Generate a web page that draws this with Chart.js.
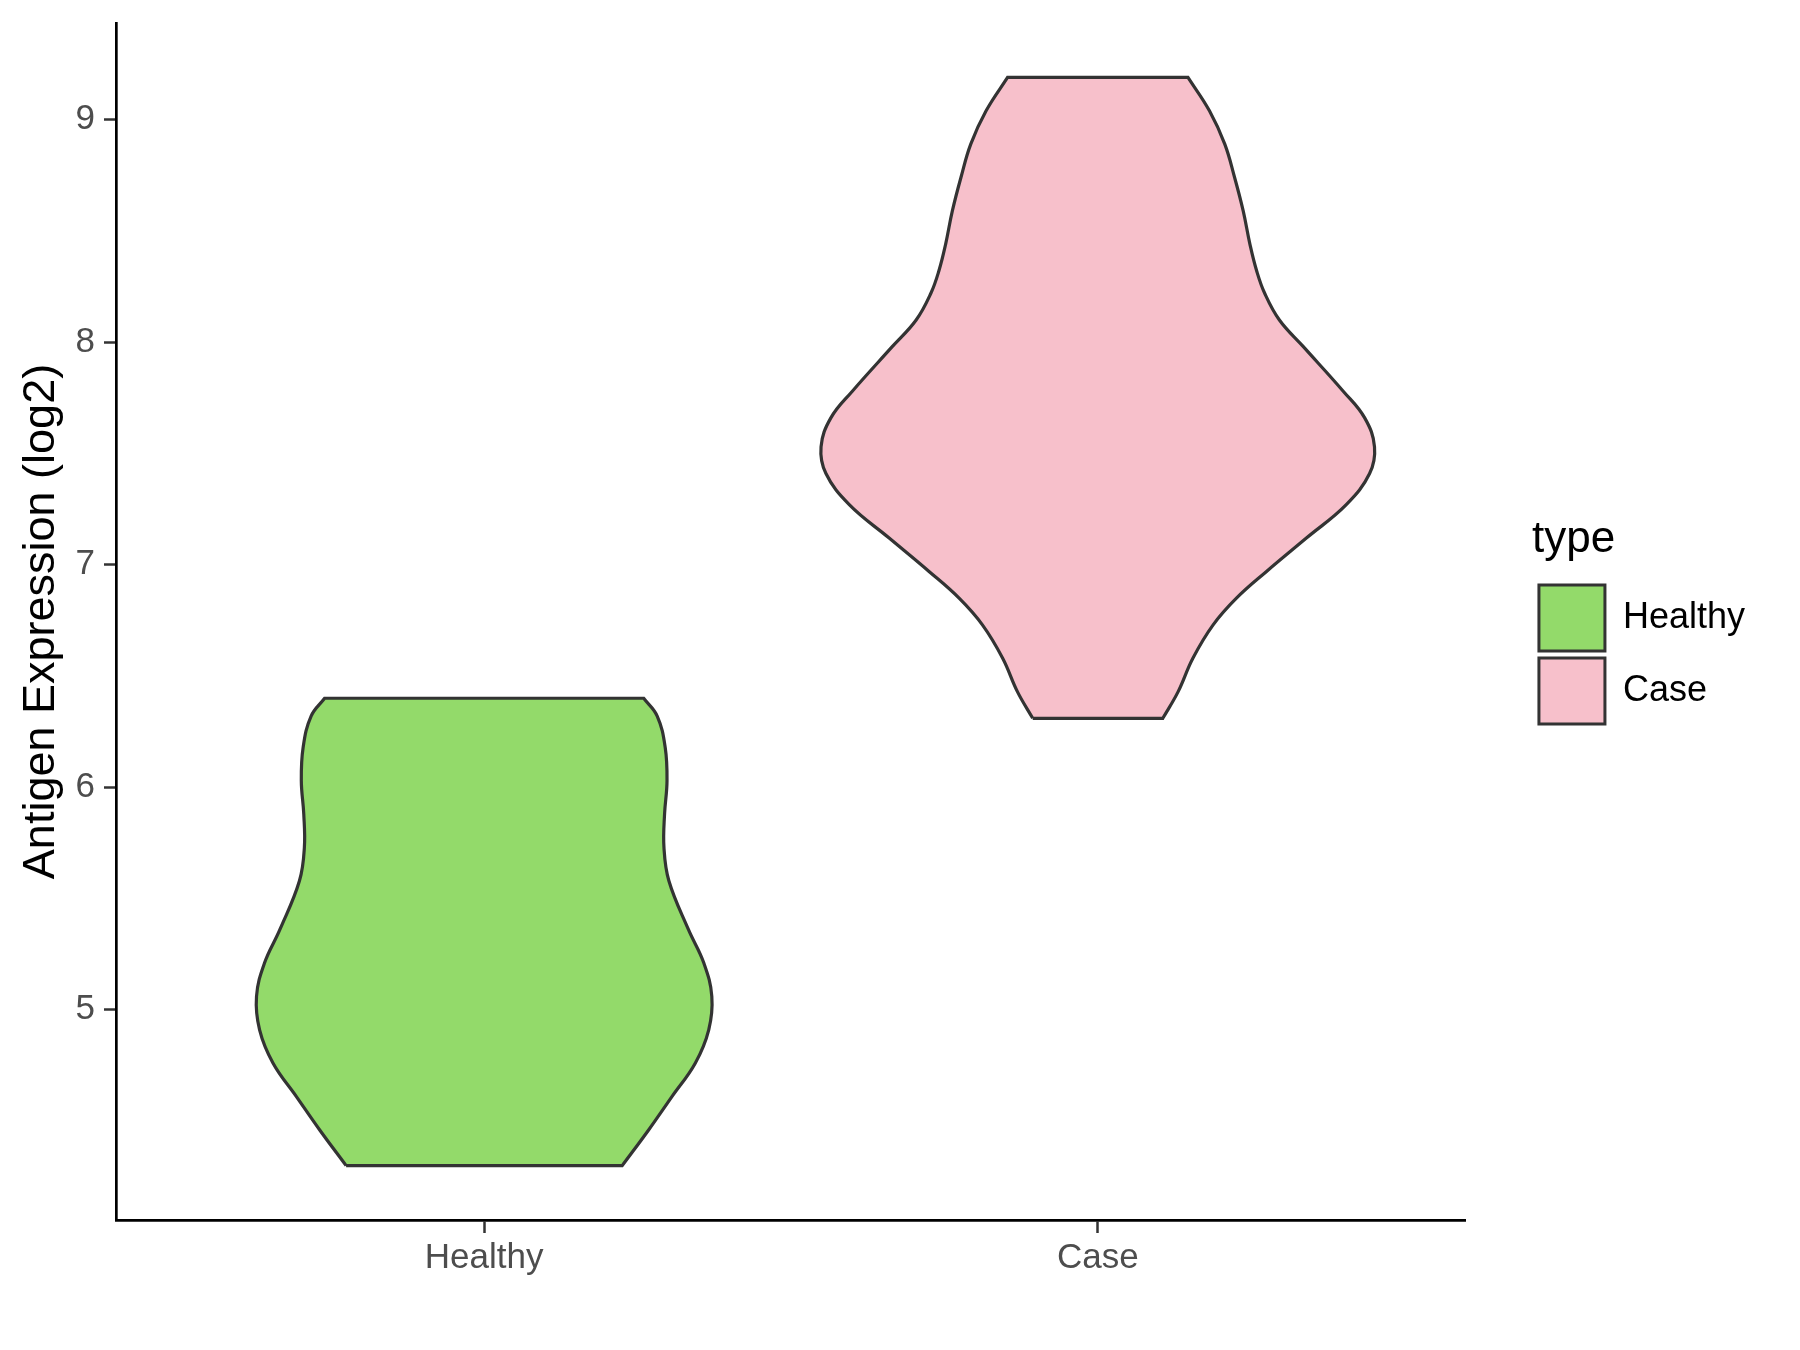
<!DOCTYPE html>
<html>
<head>
<meta charset="utf-8">
<title>Antigen Expression violin</title>
<script src="https://cdn.jsdelivr.net/npm/chart.js@4.4.1/dist/chart.umd.min.js"></script>
<style>
  html, body { margin: 0; padding: 0; background: #fff; }
  canvas { display: block; }
</style>
</head>
<body>
<canvas id="violin-chart" width="1800" height="1350"></canvas>
<script>
// categories on the x axis
const categories = ['Healthy', 'Case'];
const fillColors = ['#93DA6A', '#F7C0CB'];
const yTicks = [5, 6, 7, 8, 9];

// violin outlines: level and half-width (category units)
const healthyLevels = [4.30, 4.46, 4.61, 4.76, 4.91, 5.06, 5.21, 5.36, 5.58, 5.73, 5.88, 6.03, 6.18, 6.32, 6.40];
const healthyWidths = [0.225, 0.268, 0.306, 0.344, 0.366, 0.371, 0.358, 0.333, 0.301, 0.293, 0.294, 0.298, 0.295, 0.282, 0.260];
const caseLevels = [6.31, 6.43, 6.58, 6.73, 6.85, 6.97, 7.12, 7.27, 7.41, 7.53, 7.66, 7.78, 7.98, 8.10, 8.22, 8.32, 8.44, 8.59, 8.74, 8.89, 9.04, 9.19];
const caseWidths = [0.106, 0.131, 0.155, 0.188, 0.226, 0.275, 0.340, 0.405, 0.443, 0.451, 0.435, 0.400, 0.335, 0.296, 0.272, 0.259, 0.248, 0.237, 0.223, 0.207, 0.182, 0.147];

Chart.defaults.font.family = '"Liberation Sans", Arial, sans-serif';

// closed outline: up the left side, across the top, down the right side, back across the bottom
// corner points are doubled so the flat ends stay straight with tension on
const violinPath = (center, levels, widths) => {
  const left = levels.map((v, k) => ({ x: center - widths[k], y: v }));
  const right = levels.map((v, k) => ({ x: center + widths[k], y: v })).reverse();
  const n = levels.length;
  return [...left, left[n - 1], right[0], ...right, right[n - 1], left[0], left[0]];
};

const allLevels = [...healthyLevels, ...caseLevels];
const lo = Math.min(...allLevels);
const hi = Math.max(...allLevels);
const pad = (hi - lo) * 0.05;

const outlines = [
  violinPath(1, healthyLevels, healthyWidths),
  violinPath(2, caseLevels, caseWidths)
];

const ctx = document.getElementById('violin-chart').getContext('2d');

new Chart(ctx, {
  type: 'line',
  data: {
    datasets: categories.map((name, i) => ({
      label: name,
      data: outlines[i],
      xAxisID: 'x',
      yAxisID: 'y',
      backgroundColor: fillColors[i],
      borderColor: '#333333',
      borderWidth: 3.2,
      fill: 'shape',
      tension: 0.4,
      pointRadius: 0,
      pointHoverRadius: 0
    }))
  },
  options: {
    responsive: false,
    animation: false,
    indexAxis: 'y',
    layout: {
      padding: { left: 0, right: 45, top: 23, bottom: 0 }
    },
    scales: {
      x: {
        type: 'linear',
        min: 0.4,
        max: 2.6,
        afterBuildTicks: scale => {
          scale.ticks = categories.map((c, i) => ({ value: i + 1 }));
        },
        afterFit: scale => { scale.height = 130; },
        ticks: {
          autoSkip: false,
          padding: 4,
          color: '#4d4d4d',
          font: { size: 35 },
          callback: value => categories[value - 1] || ''
        },
        grid: {
          drawOnChartArea: false,
          drawTicks: true,
          tickLength: 13,
          tickColor: '#333333',
          tickWidth: 2.5
        },
        border: { color: '#000000', width: 2.7 }
      },
      y: {
        type: 'linear',
        min: lo - pad,
        max: hi + pad,
        afterBuildTicks: scale => {
          scale.ticks = yTicks.map(v => ({ value: v }));
        },
        afterFit: scale => {
          scale.width = 116;
          scale.paddingTop = 0;
          scale.paddingBottom = 0;
        },
        ticks: {
          autoSkip: false,
          padding: 9,
          color: '#4d4d4d',
          font: { size: 35 }
        },
        grid: {
          drawOnChartArea: false,
          drawTicks: true,
          tickLength: 12,
          tickColor: '#333333',
          tickWidth: 2.5
        },
        border: { color: '#000000', width: 2.7 },
        title: {
          display: true,
          text: 'Antigen Expression (log2)',
          color: '#000000',
          font: { size: 45, lineHeight: 1.2 },
          padding: { top: 15, bottom: 0 }
        }
      },
      // empty axis only to leave the gap between the panel and the legend
      y2: {
        type: 'linear',
        axis: 'y',
        position: 'right',
        afterFit: scale => {
          scale.width = 66;
          scale.paddingTop = 0;
          scale.paddingBottom = 0;
        },
        ticks: { display: false },
        grid: { display: false },
        border: { display: false }
      }
    },
    plugins: {
      tooltip: { enabled: false },
      legend: {
        position: 'right',
        fullSize: false,
        align: 'center',
        title: {
          display: true,
          text: 'type',
          color: '#000000',
          position: 'start',
          font: { size: 44, lineHeight: 1.2 },
          padding: { top: 6, bottom: 7 }
        },
        labels: {
          boxWidth: 66,
          boxHeight: 66,
          padding: 7,
          color: '#000000',
          font: { size: 36 },
          generateLabels: chart => categories.map((name, i) => ({
            text: name,
            fillStyle: fillColors[i],
            strokeStyle: '#333333',
            lineWidth: 3,
            fontColor: '#000000',
            hidden: false,
            datasetIndex: i
          }))
        }
      }
    }
  }
});
</script>
</body>
</html>
